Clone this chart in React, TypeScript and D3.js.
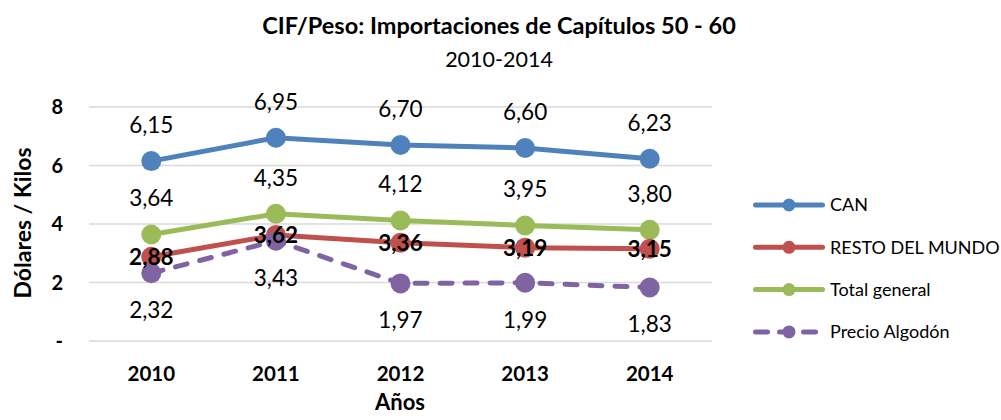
import React from "react";
import * as d3 from "d3";

const years = ["2010", "2011", "2012", "2013", "2014"];
const can = [6.15, 6.95, 6.7, 6.6, 6.23];
const resto = [2.88, 3.62, 3.36, 3.19, 3.15];
const total = [3.64, 4.35, 4.12, 3.95, 3.8];
const algodon = [2.32, 3.43, 1.97, 1.99, 1.83];
const yTicks = [0, 2, 4, 6, 8];
const yTickLabels = ["-", "2", "4", "6", "8"];

const W = 1001;
const H = 420;
const FONT = "Lato, 'Open Sans', sans-serif";

type Series = {
  name: string;
  values: number[];
  color: string;
  dashed: boolean;
  labelPos: "above" | "center" | "below";
  bold: boolean;
};

const series: Series[] = [
  { name: "CAN", values: can, color: "#4F81BD", dashed: false, labelPos: "above", bold: false },
  { name: "RESTO DEL MUNDO", values: resto, color: "#C0504D", dashed: false, labelPos: "center", bold: true },
  { name: "Total general", values: total, color: "#9BBB59", dashed: false, labelPos: "above", bold: false },
  { name: "Precio Algodón", values: algodon, color: "#8064A2", dashed: true, labelPos: "below", bold: false },
];

const fmt = (v: number) => v.toFixed(2).replace(".", ",");

export default function App() {
  const x = d3.scalePoint<string>().domain(years).range([89, 712]).padding(0.5);
  const y = d3.scaleLinear().domain([0, 8]).range([341, 107]);
  const line = d3
    .line<number>()
    .x((_, i) => x(years[i]) as number)
    .y((d) => y(d));

  const drawOrder = [series[0], series[2], series[1], series[3]];

  return (
    <svg width={W} height={H} style={{ display: "block", position: "absolute", left: 0, top: 0 }}>
      <rect x={0} y={0} width={W} height={H} fill="#fff" />
      <text x={499} y={34} textAnchor="middle" fontFamily={FONT} fontWeight="bold" fontSize={23.5} fill="#000">
        CIF/Peso: Importaciones de Capítulos 50 - 60
      </text>
      <text x={499} y={67} textAnchor="middle" fontFamily={FONT} fontSize={21.5} fill="#000">
        2010-2014
      </text>
      {yTicks.map((t) => (
        <line key={t} x1={89} x2={712} y1={y(t)} y2={y(t)} stroke="#D9D9D9" strokeWidth={1.5} />
      ))}
      {yTicks.map((t, i) => (
        <text key={t} x={63} y={y(t)} dy="0.35em" textAnchor="end" fontFamily={FONT} fontWeight="bold" fontSize={20} fill="#000">
          {yTickLabels[i]}
        </text>
      ))}
      {years.map((yr) => (
        <text key={yr} x={x(yr)} y={381} textAnchor="middle" fontFamily={FONT} fontWeight="bold" fontSize={20.5} fill="#000">
          {yr}
        </text>
      ))}
      <text x={400} y={410} textAnchor="middle" fontFamily={FONT} fontWeight="bold" fontSize={22} fill="#000">
        Años
      </text>
      <text
        transform={`translate(31,223) rotate(-90)`}
        textAnchor="middle"
        fontFamily={FONT}
        fontWeight="bold"
        fontSize={23}
        fill="#000"
      >
        Dólares / Kilos
      </text>
      {drawOrder.map((s) => (
        <g key={s.name}>
          <path
            d={line(s.values) || ""}
            fill="none"
            stroke={s.color}
            strokeWidth={5}
            strokeLinecap="round"
            strokeDasharray={s.dashed ? "12,13" : undefined}
          />
          {s.values.map((v, i) => (
            <circle key={i} cx={x(years[i])} cy={y(v)} r={10} fill={s.color} />
          ))}
        </g>
      ))}
      {series.map((s) =>
        s.values.map((v, i) => {
          const off = s.labelPos === "above" ? -36 : s.labelPos === "below" ? 37 : 0;
          return (
            <text
              key={s.name + i}
              x={x(years[i])}
              y={y(v) + off}
              dy="0.35em"
              textAnchor="middle"
              fontFamily={FONT}
              fontWeight={s.bold ? "bold" : "normal"}
              fontSize={22.5}
              fill="#000"
            >
              {fmt(v)}
            </text>
          );
        })
      )}
      {series.map((s, i) => {
        const ly = 205 + i * 42.3;
        return (
          <g key={s.name}>
            <line
              x1={755.5}
              x2={s.dashed ? 816 : 822.5}
              y1={ly}
              y2={ly}
              stroke={s.color}
              strokeWidth={5}
              strokeLinecap="round"
              strokeDasharray={s.dashed ? "12,12" : undefined}
            />
            <circle cx={789} cy={ly} r={6.5} fill={s.color} />
            <text x={830} y={ly} dy="0.35em" fontFamily={FONT} fontSize={18} fill="#000">
              {s.name}
            </text>
          </g>
        );
      })}
    </svg>
  );
}
